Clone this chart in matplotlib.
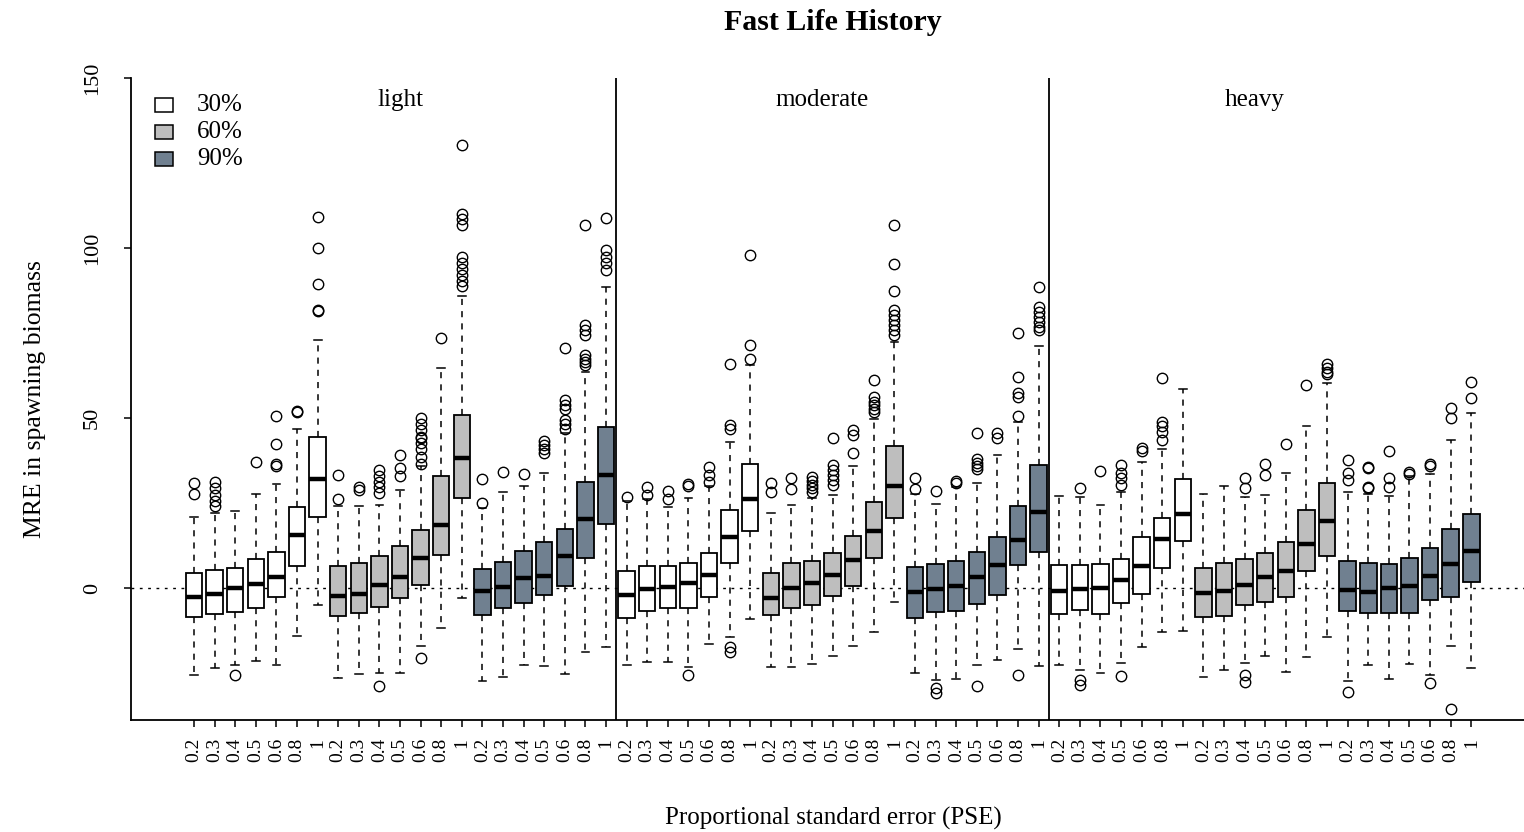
import matplotlib
matplotlib.use("Agg")
import matplotlib.pyplot as plt
from matplotlib.patches import Rectangle

plt.rcParams['font.family'] = ['Liberation Serif', 'DejaVu Serif']

pse_labels = ["0.2", "0.3", "0.4", "0.5", "0.6", "0.8", "1"]
fishing = ["light", "moderate", "heavy"]
levels = ["30%", "60%", "90%"]
level_colors = ["#FFFFFF", "#BEBEBE", "#708090"]

# Box statistics, one row per (fishing, level) group, seven PSE values each.
# Row order: light 30/60/90, moderate 30/60/90, heavy 30/60/90.
whislo = [
    [-25.5, -23.5, -22.5, -21.5, -22.5, -14.0, -5.0],
    [-26.4, -25.2, -25.0, -25.0, -17.1, -11.8, -3.0],
    [-27.4, -26.3, -22.5, -22.8, -25.4, -18.9, -17.3],
    [-22.6, -21.7, -21.7, -23.3, -16.5, -14.3, -9.2],
    [-23.3, -23.1, -22.2, -19.9, -17.1, -13.0, -4.0],
    [-24.9, -26.9, -26.6, -22.5, -21.2, -18.0, -22.9],
    [-22.5, -24.1, -24.9, -22.0, -17.3, -12.8, -12.5],
    [-26.1, -24.1, -22.0, -20.0, -24.6, -20.4, -14.3],
    [-27.3, -22.6, -26.6, -22.2, -25.6, -17.1, -23.6],
]
q1 = [
    [-8.5, -7.7, -7.0, -6.0, -2.6, 6.5, 21.0],
    [-8.3, -7.3, -5.5, -3.0, 0.9, 9.6, 26.5],
    [-7.9, -6.0, -4.3, -2.1, 0.5, 8.9, 18.8],
    [-8.9, -6.8, -5.8, -5.8, -2.5, 7.5, 16.9],
    [-7.9, -6.0, -5.0, -2.4, 0.6, 8.9, 20.5],
    [-8.7, -6.9, -6.7, -4.8, -1.9, 6.8, 10.5],
    [-7.6, -6.5, -7.6, -4.3, -1.6, 6.0, 13.9],
    [-8.4, -8.1, -5.0, -4.0, -2.5, 5.1, 9.5],
    [-6.8, -7.3, -7.3, -7.3, -3.5, -2.5, 1.7],
]
med = [
    [-2.5, -1.8, 0.0, 1.2, 3.3, 15.6, 32.1],
    [-2.3, -1.6, 0.9, 3.2, 8.8, 18.4, 38.3],
    [-1.0, 0.4, 3.0, 3.5, 9.5, 20.3, 33.2],
    [-1.9, -0.3, 0.4, 1.4, 3.8, 14.9, 26.1],
    [-2.8, 0.1, 1.6, 3.8, 8.2, 16.8, 30.1],
    [-1.1, -0.3, 0.7, 3.3, 6.8, 14.1, 22.5],
    [-0.9, -0.4, 0.1, 2.4, 6.5, 14.4, 21.8],
    [-1.4, -0.9, 0.9, 3.3, 5.0, 13.1, 19.7],
    [-0.6, -1.1, 0.1, 0.6, 3.5, 7.1, 11.0],
]
q3 = [
    [4.5, 5.3, 6.0, 8.5, 10.7, 23.9, 44.3],
    [6.5, 7.5, 9.5, 12.5, 17.0, 33.0, 51.0],
    [5.5, 7.8, 10.8, 13.5, 17.5, 31.3, 47.3],
    [5.0, 6.6, 6.6, 7.3, 10.4, 22.9, 36.5],
    [4.3, 7.3, 7.9, 10.2, 15.3, 25.4, 41.9],
    [6.1, 7.0, 7.9, 10.7, 14.9, 24.1, 36.2],
    [6.8, 6.8, 7.1, 8.5, 14.9, 20.5, 32.1],
    [6.0, 7.5, 8.5, 10.4, 13.4, 22.9, 30.8],
    [7.9, 7.3, 7.1, 8.7, 11.7, 17.5, 21.7],
]
whishi = [
    [21.0, 22.0, 22.7, 27.6, 30.7, 46.9, 72.9],
    [24.0, 24.0, 24.5, 28.7, 35.8, 64.8, 85.9],
    [23.4, 28.3, 30.1, 33.7, 45.5, 63.6, 88.4],
    [25.5, 26.1, 23.7, 26.4, 30.0, 43.0, 65.6],
    [22.2, 24.4, 26.4, 27.4, 36.0, 49.6, 72.5],
    [27.6, 24.7, 29.8, 31.0, 39.1, 48.9, 71.2],
    [27.2, 26.7, 24.4, 28.3, 37.0, 40.9, 58.5],
    [27.8, 30.0, 26.9, 27.5, 33.7, 47.7, 60.2],
    [28.3, 27.6, 27.2, 32.9, 33.5, 43.5, 51.6],
]
fliers = [
    [[30.8, 27.8], [31.3, 29.4, 27.5, 25.5, 24.0], [-25.5], [37.1],
     [50.7, 42.5, 36.4, 36.0], [52.0, 51.7], [109.2, 100.1, 89.4, 81.9, 81.6]],
    [[33.2, 26.2], [29.6, 28.8], [34.7, 33.0, 31.3, 29.6, 27.9, -28.7], [39.2, 35.2, 33.0],
     [49.9, 48.2, 46.5, 44.5, 44.1, 42.6, 40.9, 38.6, 36.4, -20.5], [73.5],
     [130.4, 110.1, 108.4, 106.8, 97.4, 95.5, 93.8, 92.1, 90.4, 88.7]],
    [[32.2, 25.1], [34.2], [33.6], [43.3, 42.1, 40.8, 39.6],
     [70.7, 55.3, 53.8, 52.8, 49.5, 48.2, 46.8],
     [106.8, 77.4, 75.9, 74.4, 68.5, 67.5, 66.6, 65.6],
     [108.7, 99.4, 97.5, 95.5, 93.5]],
    [[26.8], [29.8, 27.4], [28.6, 26.1], [30.5, 30.1, -25.6], [35.7, 33.2, 31.2],
     [65.8, 47.9, 46.7, -17.3, -18.7], [97.9, 71.5, 67.5]],
    [[31.0, 28.3], [32.5, 29.0], [32.7, 31.5, 30.3, 29.3, 28.3],
     [44.0, 36.2, 34.7, 33.2, 31.8, 30.3], [46.5, 45.0, 39.6],
     [61.2, 56.3, 54.8, 53.8, 52.8, 51.9],
     [106.8, 95.2, 87.4, 81.8, 80.3, 78.8, 77.4, 75.9, 74.4]],
    [[32.5, 29.0], [28.6, -29.3, -31.0], [31.5, 30.8],
     [45.5, 37.9, 36.9, 35.9, 34.9, -28.8], [45.7, 44.2],
     [74.9, 62.2, 57.3, 56.3, 50.7, -25.6],
     [88.4, 82.7, 81.3, 79.8, 78.3, 76.9, 75.9]],
    [[], [29.5, -27.1, -28.5], [34.4], [36.2, 33.7, 32.3, 30.3, -25.9], [41.3, 40.3],
     [61.7, 48.9, 47.6, 46.0, 43.5], []],
    [[], [], [32.3, 29.3, -25.6, -27.5], [36.4, 33.2], [42.3], [59.7],
     [65.9, 64.6, 63.6, 62.9]],
    [[37.6, 33.8, 31.8, -30.5], [35.7, 35.2, 29.8, 29.3], [40.3, 32.3, 29.8], [34.2, 33.5],
     [36.4, 35.9, -28.0], [53.0, 50.1, -35.7], [60.7, 55.8]],
]

W, H = 1524, 832
fig = plt.figure(figsize=(W / 100, H / 100), dpi=100)
ax = fig.add_axes([131 / W, (H - 720) / H, (W - 131) / W, (720 - 78) / H])

stats, positions, colors, tick_labels = [], [], [], []
pos = 1
for g in range(len(whislo)):
    for k in range(len(pse_labels)):
        stats.append(dict(whislo=whislo[g][k], q1=q1[g][k], med=med[g][k],
                          q3=q3[g][k], whishi=whishi[g][k], fliers=fliers[g][k]))
        positions.append(pos)
        colors.append(level_colors[g % 3])
        tick_labels.append(pse_labels[k])
        pos += 1

# reference line at zero, drawn under the boxes' median bars
ax.axhline(0, color="black", lw=1.0, linestyle=(0, (2, 4)), zorder=1.5)

bp = ax.bxp(stats, positions=positions, widths=0.8, patch_artist=True,
            showfliers=True, manage_ticks=False, capwidths=0.38,
            boxprops=dict(edgecolor="black", linewidth=1.3),
            medianprops=dict(color="black", linewidth=3.2, solid_capstyle="butt"),
            whiskerprops=dict(color="black", linewidth=1.1, linestyle=(0, (4, 4))),
            capprops=dict(color="black", linewidth=1.1),
            flierprops=dict(marker="o", markerfacecolor="none", markeredgecolor="black",
                            markersize=7.5, markeredgewidth=1.0))
for patch, c in zip(bp["boxes"], colors):
    patch.set_facecolor(c)

n_per_panel = 3 * len(pse_labels)
for b in (n_per_panel + 0.5, 2 * n_per_panel + 0.5):
    ax.axvline(b, color="black", lw=1.3, zorder=3)

ax.set_xlim(-2.06, 65.56)
ax.set_ylim(-38.8, 150)
ax.spines["top"].set_visible(False)
ax.spines["right"].set_visible(False)
for s in ("left", "bottom"):
    ax.spines[s].set_linewidth(1.3)

ax.set_xticks(positions)
ax.set_xticklabels(tick_labels, rotation=90, fontsize=14)
ax.tick_params(axis="x", length=5, width=1.1, pad=8)
ax.set_yticks([0, 50, 100, 150])
ax.set_yticklabels(["0", "50", "100", "150"], rotation=90, va="center", fontsize=16)
ax.tick_params(axis="y", length=5, width=1.1, pad=16)

# panel names
panel_x = [11, 31.5, 52.5]
for name, px in zip(fishing, panel_x):
    ax.text(px, 143.5, name, ha="center", va="center", fontsize=18)

# legend
for i, (lab, c) in enumerate(zip(levels, level_colors)):
    yc = 105 + i * 27
    yf = (720 - yc) / 642
    ax.add_patch(Rectangle(((155 - 131) / 1393, yf - 7 / 642), 18 / 1393, 14 / 642,
                           transform=ax.transAxes, facecolor=c, edgecolor="black",
                           lw=1.1, clip_on=False))
    ax.text((197 - 131) / 1393, yf, lab, transform=ax.transAxes,
            ha="left", va="center", fontsize=18)

fig.text(833 / W, 1 - 22 / H, "Fast Life History", ha="center", va="center",
         fontsize=21.5, fontweight="bold")
fig.text(833 / W, 1 - 818 / H, "Proportional standard error (PSE)",
         ha="center", va="center", fontsize=18)
fig.text(35 / W, 1 - 399 / H, "MRE in spawning biomass", rotation=90,
         ha="center", va="center", fontsize=18.5)

fig.savefig("out.png", dpi=100)
